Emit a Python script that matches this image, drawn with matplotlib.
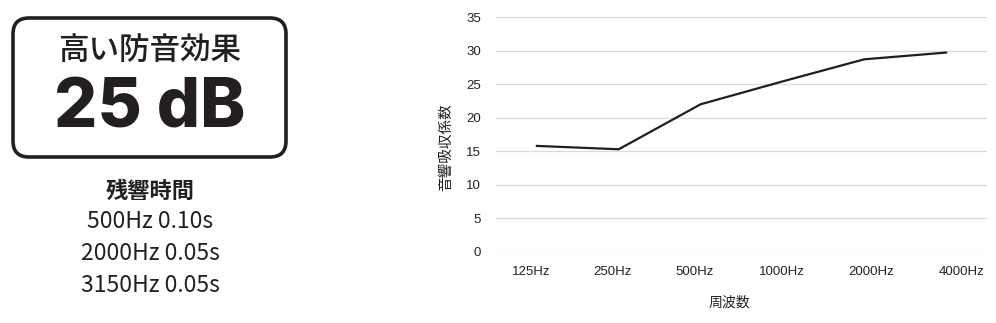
import matplotlib
matplotlib.use("Agg")
import matplotlib.pyplot as plt
from matplotlib.patches import FancyBboxPatch
from matplotlib.transforms import ScaledTranslation, blended_transform_factory

# ---- data ----
categories = ["125Hz", "250Hz", "500Hz", "1000Hz", "2000Hz", "4000Hz"]
absorption = [15.8, 15.3, 22.0, 25.4, 28.7, 29.7]
y_ticks = [0, 5, 10, 15, 20, 25, 30, 35]
badge_title = "高い防音効果"
badge_value = "25 dB"
rt_title = "残響時間"
rt_lines = ["500Hz 0.10s", "2000Hz 0.05s", "3150Hz 0.05s"]
x_label = "周波数"
y_label = "音響吸収係数"

W, H = 996, 323
fig = plt.figure(figsize=(W / 100, H / 100), dpi=100)
fig.patch.set_facecolor("white")

TXT = "#231f20"
CJK = ["Noto Sans CJK JP", "DejaVu Sans"]
LAT = ["Liberation Sans", "Noto Sans CJK JP", "DejaVu Sans"]

# ---- left panel (pixel coordinates) ----
bg = fig.add_axes([0, 0, 1, 1])
bg.set_xlim(0, W)
bg.set_ylim(H, 0)
bg.axis("off")
box = FancyBboxPatch((13, 18), 273, 139,
                     boxstyle="round,pad=0,rounding_size=16",
                     facecolor="white", edgecolor="#231f20", linewidth=2.6)
bg.add_patch(box)
bg.text(150, 50, badge_title, ha="center", va="center", fontsize=22,
        family=CJK, fontweight="medium", color=TXT)
bg.text(150, 110, badge_value, ha="center", va="center", fontsize=49,
        family=["Inter", "Roboto", "DejaVu Sans"], fontweight="heavy", color=TXT)
bg.text(150, 191, rt_title, ha="center", va="center", fontsize=16,
        family=CJK, fontweight="bold", color=TXT)
for i, line in enumerate(rt_lines):
    bg.text(150, 222 + 32 * i, line, ha="center", va="center", fontsize=16.5,
            family=CJK, color=TXT)

# ---- chart ----
ax = fig.add_axes([496 / W, 1 - 252 / H, (987 - 496) / W, (252 - 17) / H])
x = list(range(len(categories)))
ax.plot(x, absorption, color="#1f1f1f", linewidth=1.6, solid_joinstyle="miter")
ax.set_xlim(-0.5, len(categories) - 0.5)
ax.set_ylim(0, 35)
ax.set_yticks(y_ticks)
ax.set_yticklabels([str(v) for v in y_ticks], family=LAT, fontsize=9.5, color="#222222")
ax.set_xticks(x)
ax.set_xticklabels([])
# category labels (the reference's labels drift slightly relative to the points)
label_shift_px = [-6, -6, -6, -1, 7, 15]
base = blended_transform_factory(ax.transData, ax.transAxes)
for xi, cat, dx in zip(x, categories, label_shift_px):
    ax.text(xi, 0, cat, transform=base + ScaledTranslation(dx / 100, -20 / 100, fig.dpi_scale_trans),
            ha="center", va="center", family=LAT, fontsize=9.5, color="#222222")
ax.grid(axis="y", color="#dadada", linewidth=0.9)
ax.set_axisbelow(True)
for s in ax.spines.values():
    s.set_visible(False)
ax.tick_params(axis="both", length=0)
ax.tick_params(axis="y", pad=11)
ax.set_xlabel(x_label, family=CJK, fontsize=10, color="#222222")
ax.set_ylabel(y_label, family=CJK, fontsize=10.5, color="#222222")
ax.xaxis.set_label_coords((729 - 496) / (987 - 496), -(303 - 252) / (252 - 17))
ax.yaxis.set_label_coords((446 - 496) / (987 - 496), (252 - 147) / (252 - 17))
ax.xaxis.label.set_verticalalignment("center")
ax.yaxis.label.set_verticalalignment("center")

fig.savefig("out.png", dpi=100, facecolor="white")
